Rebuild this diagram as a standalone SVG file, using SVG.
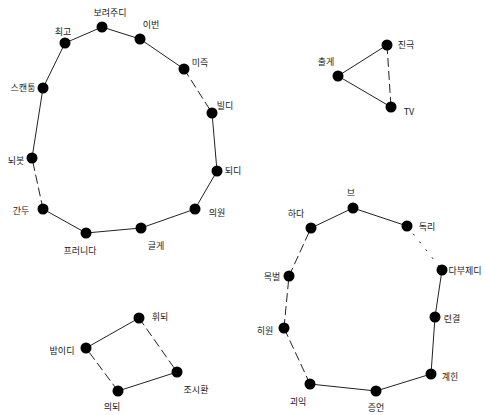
<svg xmlns="http://www.w3.org/2000/svg" width="485" height="415" viewBox="0 0 485 415">
<style>
.e{stroke:#222;stroke-width:1;fill:none}
.d{stroke-dasharray:9,4}
.o{stroke-dasharray:2,8}
.n{fill:#000}
text{font-family:"Noto Sans CJK KR","Noto Sans",sans-serif;font-size:9px;fill:#222;text-anchor:middle;dominant-baseline:central}
</style>
<rect width="485" height="415" fill="#fff"/>
<g id="connectors">
<line class="e" x1="65" y1="43" x2="102" y2="27"/>
<line class="e" x1="102" y1="27" x2="140" y2="39"/>
<line class="e" x1="140" y1="39" x2="184" y2="69"/>
<line class="e d" x1="184" y1="69" x2="212" y2="113"/>
<line class="e" x1="212" y1="113" x2="217" y2="171"/>
<line class="e" x1="217" y1="171" x2="195" y2="209"/>
<line class="e" x1="195" y1="209" x2="141" y2="228"/>
<line class="e" x1="141" y1="228" x2="86" y2="233"/>
<line class="e" x1="86" y1="233" x2="43" y2="209"/>
<line class="e d" x1="43" y1="209" x2="32" y2="158"/>
<line class="e" x1="32" y1="158" x2="43" y2="88"/>
<line class="e" x1="43" y1="88" x2="65" y2="43"/>
<line class="e" x1="338" y1="76" x2="387" y2="45"/>
<line class="e" x1="338" y1="76" x2="391" y2="107"/>
<line class="e d" x1="387" y1="45" x2="391" y2="107"/>
<line class="e" x1="311" y1="228" x2="353" y2="208"/>
<line class="e" x1="353" y1="208" x2="407" y2="226"/>
<line class="e o" x1="407" y1="226" x2="442" y2="270"/>
<line class="e" x1="442" y1="270" x2="435" y2="317"/>
<line class="e" x1="435" y1="317" x2="431" y2="374"/>
<line class="e" x1="431" y1="374" x2="376" y2="391"/>
<line class="e" x1="376" y1="391" x2="310" y2="384"/>
<line class="e d" x1="310" y1="384" x2="284" y2="328"/>
<line class="e d" x1="284" y1="328" x2="289" y2="276"/>
<line class="e d" x1="289" y1="276" x2="311" y2="228"/>
<line class="e" x1="86" y1="348" x2="139" y2="318"/>
<line class="e d" x1="139" y1="318" x2="177" y2="372"/>
<line class="e" x1="177" y1="372" x2="118" y2="391"/>
<line class="e d" x1="118" y1="391" x2="86" y2="348"/>
</g>
<g id="n1"><circle class="n" cx="65" cy="43" r="5.5"/><text x="63" y="31">최고</text></g>
<g id="n2"><circle class="n" cx="102" cy="27" r="5.5"/><text x="110" y="12">보려주디</text></g>
<g id="n3"><circle class="n" cx="140" cy="39" r="5.5"/><text x="151" y="24">이번</text></g>
<g id="n4"><circle class="n" cx="184" cy="69" r="5.5"/><text x="200" y="62">미즉</text></g>
<g id="n5"><circle class="n" cx="212" cy="113" r="5.5"/><text x="225" y="105">빌디</text></g>
<g id="n6"><circle class="n" cx="217" cy="171" r="5.5"/><text x="233" y="170">되디</text></g>
<g id="n7"><circle class="n" cx="195" cy="209" r="5.5"/><text x="217" y="212">의원</text></g>
<g id="n8"><circle class="n" cx="141" cy="228" r="5.5"/><text x="156" y="245">글게</text></g>
<g id="n9"><circle class="n" cx="86" cy="233" r="5.5"/><text x="80" y="250">프러니다</text></g>
<g id="n10"><circle class="n" cx="43" cy="209" r="5.5"/><text x="21" y="210">간두</text></g>
<g id="n11"><circle class="n" cx="32" cy="158" r="5.5"/><text x="16" y="160">뇌봇</text></g>
<g id="n12"><circle class="n" cx="43" cy="88" r="5.5"/><text x="23" y="87">스캔퉁</text></g>
<g id="t1"><circle class="n" cx="338" cy="76" r="5.5"/><text x="326" y="61">출게</text></g>
<g id="t2"><circle class="n" cx="387" cy="45" r="5.5"/><text x="406" y="44">진극</text></g>
<g id="t3"><circle class="n" cx="391" cy="107" r="5.5"/><text x="409" y="111">TV</text></g>
<g id="m1"><circle class="n" cx="353" cy="208" r="5.5"/><text x="351" y="192">브</text></g>
<g id="m2"><circle class="n" cx="311" cy="228" r="5.5"/><text x="296" y="213">하다</text></g>
<g id="m3"><circle class="n" cx="407" cy="226" r="5.5"/><text x="427" y="226">독리</text></g>
<g id="m4"><circle class="n" cx="442" cy="270" r="5.5"/><text x="465" y="270">다부제디</text></g>
<g id="m5"><circle class="n" cx="435" cy="317" r="5.5"/><text x="452" y="318">련결</text></g>
<g id="m6"><circle class="n" cx="431" cy="374" r="5.5"/><text x="450" y="376">계힌</text></g>
<g id="m7"><circle class="n" cx="376" cy="391" r="5.5"/><text x="376" y="407">증언</text></g>
<g id="m8"><circle class="n" cx="310" cy="384" r="5.5"/><text x="298" y="401">괴익</text></g>
<g id="m9"><circle class="n" cx="284" cy="328" r="5.5"/><text x="265" y="330">히원</text></g>
<g id="m10"><circle class="n" cx="289" cy="276" r="5.5"/><text x="272" y="276">목벌</text></g>
<g id="s1"><circle class="n" cx="139" cy="318" r="5.5"/><text x="160" y="316">휘되</text></g>
<g id="s2"><circle class="n" cx="86" cy="348" r="5.5"/><text x="62" y="350">밤이디</text></g>
<g id="s3"><circle class="n" cx="118" cy="391" r="5.5"/><text x="112" y="406">의되</text></g>
<g id="s4"><circle class="n" cx="177" cy="372" r="5.5"/><text x="196" y="389">조시환</text></g>
</svg>
